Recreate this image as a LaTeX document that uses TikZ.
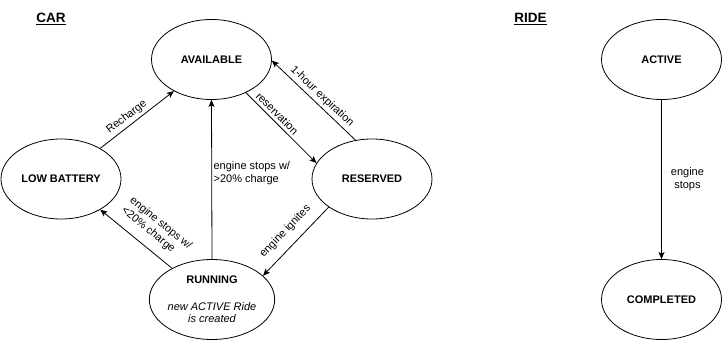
\documentclass[tikz,border=0pt]{standalone}
\usepackage{fontspec}
\setmainfont{Liberation Sans}
\usetikzlibrary{shapes.geometric,arrows.meta}

\begin{document}
\begin{tikzpicture}[x=1pt,y=-1pt,
  state/.style={ellipse, draw, line width=0.8pt, minimum width=120pt, minimum height=80pt,
    inner sep=0pt, align=center, font=\fontsize{11}{12.6}\selectfont\bfseries},
  flow/.style={draw, line width=0.8pt, -{Stealth[length=7pt,width=6pt,inset=1.5pt]}},
  lbl/.style={font=\fontsize{11}{13}\selectfont, inner sep=3pt},
  heading/.style={font=\fontsize{13.5}{15}\selectfont\bfseries, inner sep=0pt}]

\useasboundingbox (0,0) rectangle (724,342);

% Car states
\node[heading] (cartitle) at (51,19) {\underline{CAR}};
\node[state] (avail) at (211.5,59.5) {AVAILABLE};
\node[state] (low) at (61,179) {LOW BATTERY};
\node[state] (res) at (372,179) {RESERVED};
\node[state] (run) at (212,299.5) {RUNNING\\[14pt]\normalfont\itshape new ACTIVE Ride\\\normalfont\itshape is created};

% Car transitions
\draw[flow] (low.38.5) -- node[lbl, sloped, above, pos=0.43] {Recharge} (avail.220);
\draw[flow] (avail.-44) -- node[lbl, sloped, above, pos=0.37] {reservation} (res.164);
\draw[flow] (res.113.5) -- node[lbl, sloped, above, pos=0.47] {1-hour expiration} (avail.-1.5);
\draw[flow] (res.213) -- node[lbl, sloped, above=6pt, pos=0.5] {engine ignites} (run.25.5);
\draw[flow] (run.142) -- node[lbl, sloped, above=6pt, pos=0.4, align=left] {engine stops w/\\<20\% charge} (low.-38);
\draw[flow] (run.north) -- node[lbl, right, pos=0.54, align=left, inner sep=1.5pt] {engine stops w/\\>20\% charge} (avail.south);

% Ride states
\node[heading] (ridetitle) at (530.5,19) {\underline{RIDE}};
\node[state] (active) at (661.5,59.5) {ACTIVE};
\node[state] (done) at (661.5,299.5) {COMPLETED};
\draw[flow] (active.south) -- node[lbl, right, xshift=6pt, pos=0.5, align=center] {engine\\stops} (done.north);

\end{tikzpicture}
\end{document}
